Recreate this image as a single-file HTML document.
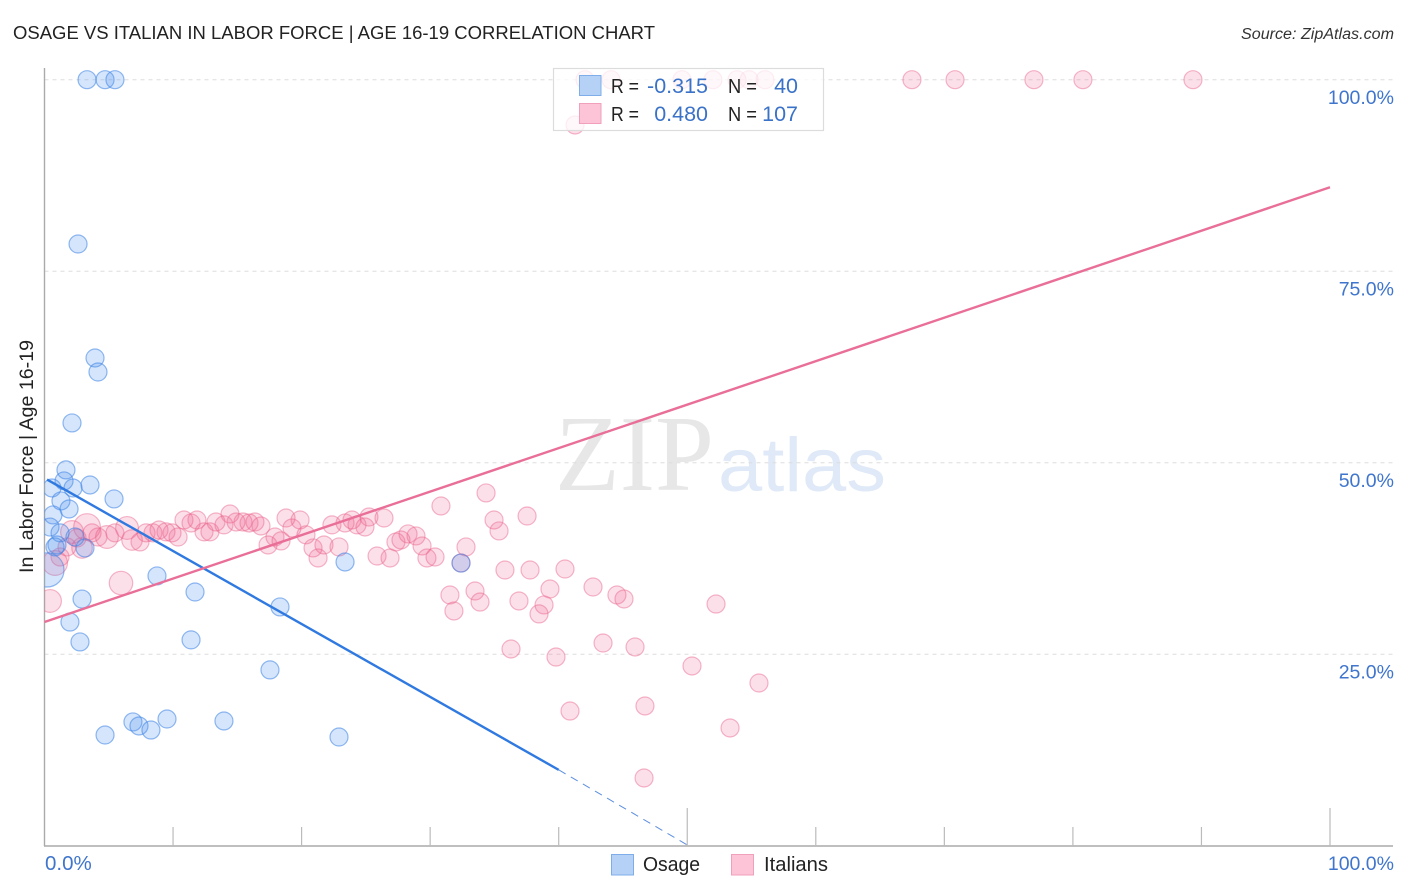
<!DOCTYPE html>
<html>
<head>
<meta charset="utf-8">
<title>Osage vs Italian in Labor Force</title>
<style>
html,body{margin:0;padding:0;background:#fff;width:1406px;height:892px;overflow:hidden}
svg{display:block;font-family:"Liberation Sans",sans-serif}
</style>
</head>
<body>
<svg id="chart" width="1406" height="892" viewBox="0 0 1406 892" xmlns="http://www.w3.org/2000/svg">
  <defs>
    <clipPath id="plot-clip"><rect x="44.5" y="60" width="1350" height="786"/></clipPath>
  </defs>
  <rect x="0" y="0" width="1406" height="892" fill="#fff"/>
  <text x="13" y="39" font-size="18.5" fill="#222" textLength="642" lengthAdjust="spacingAndGlyphs">OSAGE VS ITALIAN IN LABOR FORCE | AGE 16-19 CORRELATION CHART</text>
  <text x="1241" y="39" font-size="15.5" font-style="italic" fill="#333" textLength="153" lengthAdjust="spacingAndGlyphs">Source: ZipAtlas.com</text>
  <g>
    <text x="555" y="490" font-family="'Liberation Serif',serif" font-size="108" fill="#e7e7e7" textLength="159" lengthAdjust="spacingAndGlyphs">ZIP</text>
    <text x="718" y="491" font-size="76" fill="#dfe9f8" textLength="168" lengthAdjust="spacingAndGlyphs">atlas</text>
  </g>
  <g id="grid"></g>
  <g id="axes"></g>
  <g id="points" clip-path="url(#plot-clip)"></g>
  <g id="trends"></g>
  <g id="labels"></g>
  <text transform="translate(33,456.5) rotate(-90)" font-size="19" fill="#222" text-anchor="middle" textLength="233" lengthAdjust="spacingAndGlyphs">In Labor Force | Age 16-19</text>

  <g>
    <rect x="553.5" y="68.5" width="270" height="62" fill="#fff" fill-opacity="0.76" stroke="#dcdcdc" stroke-width="1.2"/>
    <rect x="579.5" y="75.5" width="21.5" height="20" fill="#b5d2f6" stroke="#7fade9"/>
    <rect x="579.5" y="103.5" width="21.5" height="20" fill="#fcc4d6" stroke="#f0a0ba"/>
    <g font-size="20.5" fill="#222">
      <text x="611" y="93" textLength="28" lengthAdjust="spacingAndGlyphs">R =</text>
      <text x="728" y="93" textLength="29" lengthAdjust="spacingAndGlyphs">N =</text>
      <text x="611" y="121" textLength="28" lengthAdjust="spacingAndGlyphs">R =</text>
      <text x="728" y="121" textLength="29" lengthAdjust="spacingAndGlyphs">N =</text>
    </g>
    <g font-size="21.5" fill="#3a72c8" text-anchor="end">
      <text x="708" y="93">-0.315</text>
      <text x="798" y="93">40</text>
      <text x="708" y="121">0.480</text>
      <text x="798" y="121">107</text>
    </g>
  </g>

  <g>
    <g>
      <rect x="611.5" y="854.5" width="22" height="20.5" fill="#b5d2f6" stroke="#7fade9"/>
      <text x="643" y="871" font-size="20" fill="#222" textLength="57" lengthAdjust="spacingAndGlyphs">Osage</text>
    </g>
    <g>
      <rect x="731.5" y="854.5" width="22" height="20.5" fill="#fcc4d6" stroke="#f0a0ba"/>
      <text x="764" y="871" font-size="20" fill="#222" textLength="64" lengthAdjust="spacingAndGlyphs">Italians</text>
    </g>
  </g>
</svg>
<script>
const osageX = [3.31,4.71,5.48,2.61,3.93,4.16,2.14,1.67,1.52,0.58,2.22,3.54,5.41,1.28,1.91,0.66,0.43,1.21,0.97,0.82,3.15,0.19,8.75,23.38,32.4,11.71,2.92,18.32,1.98,2.76,11.4,17.54,6.88,7.35,8.28,9.53,13.96,4.71,22.91,2.37];
const osageY = [100,100,100,78.55,63.67,61.84,55.19,49.06,47.62,46.7,46.7,47.09,45.27,45.01,43.96,43.18,41.6,40.84,39.26,39.0,38.87,36.0,35.22,37.04,36.9,33.12,32.2,31.17,29.2,26.6,26.87,22.95,16.16,15.63,15.1,16.54,16.28,14.45,14.19,40.3];
const osageWeight = [1,1,1,1,1,1,1,1,1,1,1,1,1,1,1,1,1,1,1,1,1,3.6];

const italiansX = [42.05,44.07,49.59,52.0,53.87,54.81,56.05,67.48,70.83,76.97,80.78,89.34,41.27,
0.43,5.95,1.21,0.82,2.14,3.31,1.75,2.53,2.92,3.7,4.16,4.86,5.48,6.42,6.81,7.43,7.9,8.44,8.91,9.45,9.92,10.39,10.85,11.4,11.86,12.41,12.87,13.34,13.96,14.43,14.9,15.44,15.91,16.37,16.84,17.39,17.93,18.4,18.79,19.88,19.25,20.34,20.89,21.74,21.28,22.36,23.38,23.92,24.31,24.93,25.24,26.41,22.91,25.87,26.88,27.34,27.73,28.28,28.9,29.37,29.75,30.38,30.84,32.4,32.79,34.35,34.97,35.36,37.54,35.82,37.77,40.49,31.54,33.49,33.88,31.85,36.91,39.32,38.86,38.47,42.67,44.53,45.08,52.24,36.29,39.79,43.45,45.94,50.37,55.58,40.88,46.71,53.33,46.64];
const italiansY = [100,100,100,100,100,100,100,100,100,100,100,100,94.09,
31.95,34.29,37.69,36.91,40.95,41.6,39.0,40.17,38.87,40.84,40.3,40.3,40.84,41.48,39.91,39.66,40.84,40.84,41.21,40.97,40.84,40.3,42.52,42.13,42.52,40.97,40.97,42.26,41.88,43.3,42.26,42.26,42.13,42.26,41.74,39.26,40.3,39.79,42.78,42.52,41.48,40.58,38.87,39.26,37.56,41.88,42.13,42.52,41.88,41.61,42.91,42.78,39.0,37.82,37.56,39.65,39.91,40.7,40.44,39.13,37.56,37.69,44.35,36.91,39.0,46.05,42.52,41.09,43.04,35.99,35.99,36.12,32.73,33.25,31.81,30.64,31.95,33.51,31.43,30.26,33.77,32.73,32.21,31.55,25.68,24.63,26.46,25.94,23.46,21.24,17.58,18.24,15.37,8.84];
const italiansWeight = [1,1,1,1,1,1,1,1,1,1,1,1,1,1.6,1.7,1,1.9,1.6,2.2,1,1,1.3,1,1,1.6,1,1.6,1.3];

const osageTrendX = [0.2,40];
const osageTrendY = [47.8,9.9];
const osageTrendExtX = [40,50.1];
const osageTrendExtY = [9.9,0];
const italiansTrendX = [0,100];
const italiansTrendY = [29.2,85.96];

const yTickValues = [100,75,50,25];
const yTickLabels = ['100.0%','75.0%','50.0%','25.0%'];
const xTickValues = [10,20,30,40,50,60,70,80,90,100];
const xEndValues = [0,100];
const xEndLabels = ['0.0%','100.0%'];

const NS = 'http://www.w3.org/2000/svg';
const xScale = v => 44.5 + 12.855 * v;
const yScale = v => 845.7 - 7.66 * v;
const rScale = w => 9 * Math.sqrt(w);

function make(tag, parent, attrs) {
  const el = document.createElementNS(NS, tag);
  for (const k in attrs) el.setAttribute(k, attrs[k]);
  parent.appendChild(el);
  return el;
}

const grid = document.getElementById('grid');
const axes = document.getElementById('axes');
const points = document.getElementById('points');
const trends = document.getElementById('trends');
const labels = document.getElementById('labels');

yTickValues.forEach((v, i) => {
  const line = make('line', grid, {x1: 44.5, x2: 1393, y1: yScale(v), y2: yScale(v), stroke: '#dedede', 'stroke-width': 1, 'stroke-dasharray': '4 4'});
  
  
  const t = make('text', labels, {x: 1394, y: yScale(v) + 24.5, 'font-size': 19.5, fill: '#3f75cc', 'text-anchor': 'end'});
  t.textContent = yTickLabels[i];
  
  
});

const yAxisLine = make('line', axes, {x1: 44.5, x2: 44.5, y1: 68, y2: 846, stroke: '#aaa', 'stroke-width': 1.4});


const xAxisLine = make('line', axes, {x1: 44, x2: 1393, y1: 846, y2: 846, stroke: '#aaa', 'stroke-width': 1.4});



xTickValues.forEach(v => {
  const top = (v % 50 === 0) ? 808 : 827;
  const tick = make('line', axes, {x1: xScale(v), x2: xScale(v), y1: top, y2: 846, stroke: '#bbb', 'stroke-width': 1.2});
  
  
});

xEndValues.forEach((v, i) => {
  const t = make('text', labels, {x: i === 0 ? xScale(v) + 0.5 : 1394, y: 870, 'font-size': i === 0 ? 20.5 : 19.5, fill: '#3f75cc', 'text-anchor': i === 0 ? 'start' : 'end'});
  t.textContent = xEndLabels[i];
  
  
});

italiansX.forEach((v, i) => {
  const c = make('circle', points, {cx: xScale(v), cy: yScale(italiansY[i]), r: rScale(italiansWeight[i] ?? 1), fill: '#f0648f', 'fill-opacity': 0.2, stroke: '#e8608a', 'stroke-opacity': 0.45, 'stroke-width': 1.2});
  
  
});
osageX.forEach((v, i) => {
  const c = make('circle', points, {cx: xScale(v), cy: yScale(osageY[i]), r: rScale(osageWeight[i] ?? 1), fill: '#4f92ee', 'fill-opacity': 0.24, stroke: '#3b82e6', 'stroke-opacity': 0.55, 'stroke-width': 1.2});
  
  
});

const osageLine = make('line', trends, {x1: xScale(osageTrendX[0]), y1: yScale(osageTrendY[0]), x2: xScale(osageTrendX[1]), y2: yScale(osageTrendY[1]), stroke: '#2f79e0', 'stroke-width': 2.4});


const osageDash = make('line', trends, {x1: xScale(osageTrendExtX[0]), y1: yScale(osageTrendExtY[0]), x2: xScale(osageTrendExtX[1]), y2: yScale(osageTrendExtY[1]), stroke: '#5d8fe0', 'stroke-width': 1, 'stroke-dasharray': '8 6'});


const italiansLine = make('line', trends, {x1: xScale(italiansTrendX[0]), y1: yScale(italiansTrendY[0]), x2: xScale(italiansTrendX[1]), y2: yScale(italiansTrendY[1]), stroke: '#e96f98', 'stroke-width': 2.4});


</script>
</body>
</html>
